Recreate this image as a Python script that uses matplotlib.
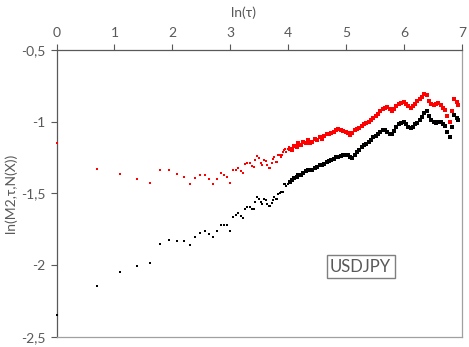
import numpy as np
import matplotlib
matplotlib.use("Agg")
import matplotlib.pyplot as plt

plt.rcParams['font.family'] = ['Lato', 'DejaVu Sans']

# ---- data: tau values and ln(M2,tau,N(X)) readings ----
tau_sparse = list(range(1, 56))
red_sparse = [-1.147, -1.330, -1.367, -1.399, -1.429, -1.339, -1.339, -1.363, -1.386, -1.434,
              -1.390, -1.371, -1.371, -1.399, -1.434, -1.399, -1.357, -1.373, -1.383, -1.425,
              -1.339, -1.334, -1.321, -1.344, -1.355, -1.297, -1.286, -1.290, -1.307, -1.314,
              -1.267, -1.237, -1.251, -1.286, -1.302, -1.267, -1.274, -1.302, -1.321, -1.321,
              -1.286, -1.260, -1.244, -1.279, -1.279, -1.232, -1.232, -1.244, -1.234, -1.215,
              -1.197, -1.193, -1.211, -1.193, -1.175]
black_sparse = [-2.345, -2.145, -2.048, -2.004, -1.983, -1.856, -1.826, -1.829, -1.829, -1.860,
                -1.805, -1.773, -1.759, -1.780, -1.805, -1.759, -1.719, -1.721, -1.721, -1.759,
                -1.663, -1.654, -1.640, -1.657, -1.670, -1.608, -1.592, -1.592, -1.606, -1.606,
                -1.557, -1.527, -1.536, -1.559, -1.573, -1.540, -1.547, -1.571, -1.587, -1.590,
                -1.564, -1.545, -1.527, -1.536, -1.536, -1.506, -1.499, -1.494, -1.490, -1.490,
                -1.436, -1.432, -1.448, -1.434, -1.418]

tau_dense = [56, 58, 60, 63, 65, 68, 71, 74, 77, 80, 83, 87, 90, 94, 98, 102, 106, 110, 115, 120,
             125, 130, 135, 141, 147, 153, 159, 165, 172, 179, 186, 194, 202, 210, 219, 228, 237,
             247, 257, 268, 279, 290, 302, 314, 327, 340, 354, 369, 384, 400, 416, 433, 451, 469,
             488, 508, 529, 550, 573, 596, 620, 645, 672, 699, 727, 757, 788, 820, 853, 888, 924,
             961, 1000, 1030]
red_dense = [-1.19, -1.20, -1.17, -1.18, -1.15, -1.16, -1.14, -1.15, -1.13, -1.15, -1.14, -1.12,
             -1.13, -1.11, -1.12, -1.10, -1.09, -1.09, -1.08, -1.07, -1.06, -1.055, -1.06, -1.065,
             -1.075, -1.08, -1.095, -1.08, -1.06, -1.05, -1.045, -1.03, -1.02, -1.01, -1.00, -0.99,
             -0.975, -0.96, -0.945, -0.93, -0.915, -0.905, -0.900, -0.915, -0.930, -0.915, -0.895,
             -0.875, -0.870, -0.862, -0.875, -0.895, -0.905, -0.895, -0.875, -0.860, -0.845, -0.830,
             -0.808, -0.815, -0.860, -0.875, -0.885, -0.880, -0.873, -0.885, -0.905, -0.920, -0.960,
             -1.000, -0.930, -0.840, -0.865, -0.885]
black_dense = [-1.42, -1.41, -1.39, -1.385, -1.37, -1.37, -1.355, -1.345, -1.335, -1.34, -1.335,
               -1.325, -1.32, -1.305, -1.30, -1.295, -1.285, -1.275, -1.27, -1.26, -1.25, -1.245,
               -1.24, -1.232, -1.23, -1.235, -1.245, -1.255, -1.235, -1.21, -1.195, -1.18, -1.165,
               -1.155, -1.145, -1.13, -1.11, -1.10, -1.09, -1.075, -1.06, -1.06, -1.075, -1.085,
               -1.09, -1.065, -1.035, -1.02, -1.01, -1.005, -1.02, -1.035, -1.045, -1.035, -1.02,
               -1.012, -0.99, -0.97, -0.94, -0.93, -0.965, -0.99, -1.005, -1.012, -1.005, -1.0,
               -1.015, -1.03, -1.07, -1.105, -1.04, -0.955, -0.975, -0.99]

x_ticks = [0, 1, 2, 3, 4, 5, 6, 7]
y_ticks = [-2.5, -2.0, -1.5, -1.0, -0.5]
y_ticklabels = ['-2,5', '-2', '-1,5', '-1', '-0,5']

# ---- figure ----
W, H = 469, 347
fig = plt.figure(figsize=(W / 100, H / 100), dpi=100)
ax = fig.add_axes([56.5 / W, 1 - 337 / H, (462 - 56.5) / W, (337 - 49.7) / H])

for tau, vals, col, ms in [(tau_sparse, red_sparse, '#ff0000', 1.9),
                           (tau_dense, red_dense, '#ff0000', 2.6),
                           (tau_sparse, black_sparse, '#000000', 1.9),
                           (tau_dense, black_dense, '#000000', 2.6)]:
    ax.plot(np.log(tau), vals, linestyle='none', marker='s', markersize=ms,
            markeredgewidth=0, color=col, clip_on=False, zorder=3)

ax.set_xlim(0, 7)
ax.set_ylim(-2.5, -0.5)
ax.xaxis.tick_top()
ax.xaxis.set_label_position('top')
ax.set_xticks(x_ticks)
ax.set_xticklabels([str(t) for t in x_ticks])
ax.set_yticks(y_ticks)
ax.set_yticklabels(y_ticklabels)

gray = '#595959'
ax.tick_params(axis='x', direction='out', length=4, width=0.8, color=gray, labelcolor=gray,
               labelsize=10, pad=4)
ax.tick_params(axis='y', direction='out', length=4, width=0.8, color=gray, labelcolor=gray,
               labelsize=10, pad=4)
ax.spines['left'].set_color(gray)
ax.spines['top'].set_color(gray)
ax.spines['right'].set_color('#a0a0a0')
ax.spines['bottom'].set_color('#a0a0a0')
for s in ax.spines.values():
    s.set_linewidth(0.9)

ax.set_xlabel('ln(τ)', fontsize=10, color=gray)
ax.xaxis.set_label_coords((243 - 56.5) / (462 - 56.5), 1 + (49.7 - 6) / (337 - 49.7))
ax.xaxis.label.set_va('top')
ax.set_ylabel('ln(M2,τ,N(X))', fontsize=10, color=gray)
ax.yaxis.set_label_coords((4 - 56.5) / (462 - 56.5), 0.5)
ax.yaxis.label.set_va('top')

ax.text(5.25, -2.011, 'USDJPY', fontsize=12, color=gray, ha='center', va='center',
        bbox=dict(boxstyle='square,pad=0.2', facecolor='white', edgecolor='#7f7f7f', linewidth=1))

fig.savefig('out.png', dpi=100)
